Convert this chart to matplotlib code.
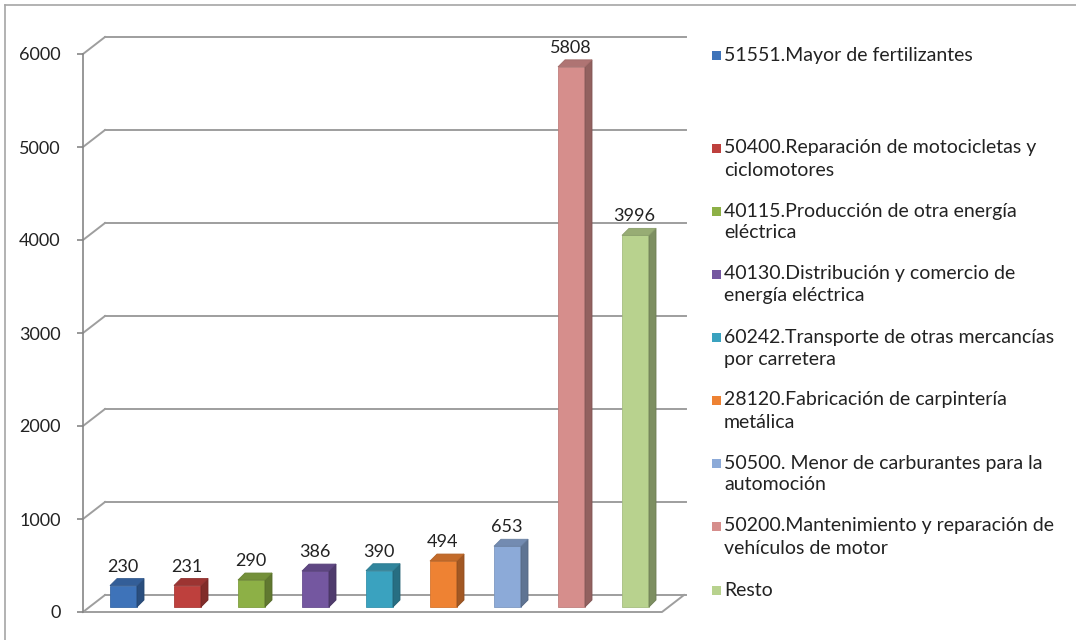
import matplotlib
matplotlib.use("Agg")
import matplotlib.pyplot as plt
from matplotlib.patches import Polygon, Rectangle
import numpy as np

categories = [
    "51551.Mayor de fertilizantes",
    "50400.Reparación de motocicletas y\nciclomotores",
    "40115.Producción de otra energía\neléctrica",
    "40130.Distribución y comercio de\nenergía eléctrica",
    "60242.Transporte de otras mercancías\npor carretera",
    "28120.Fabricación de carpintería\nmetálica",
    "50500. Menor de carburantes para la\nautomoción",
    "50200.Mantenimiento y reparación de\nvehículos de motor",
    "Resto",
]
values = [230, 231, 290, 386, 390, 494, 653, 5808, 3996]
colors = ["#3E73B9", "#BE403D", "#8DB046", "#7457A0", "#3AA2BF",
          "#EE8233", "#8CAAD8", "#D68E8C", "#B8D28E"]
yticks = [0, 1000, 2000, 3000, 4000, 5000, 6000]

W, H = 1076, 640
fig = plt.figure(figsize=(W / 100, H / 100), dpi=100)
ax = fig.add_axes([0, 0, 1, 1])
ppx = 64.0          # pixels per category
ppv = 0.093         # pixels per value unit
x_c0 = 123.5        # pixel of first category
y_0 = 612.0         # pixel of value 0 (front)
ax.set_xlim((0 - x_c0) / ppx, (W - x_c0) / ppx)
ax.set_ylim(-(H - y_0) / ppv, y_0 / ppv)
ax.set_facecolor("white")
for s in ["top", "right", "bottom"]:
    ax.spines[s].set_visible(False)

def px(dxp):
    return dxp / ppx

def pv(dyp):
    return dyp / ppv

x0 = px(83 - x_c0)
x1 = px(662 - x_c0)
ddx, ddy = px(22), pv(17)
grid_c = "#9E9E9E"

# back wall gridlines and left wall diagonals
for t in yticks:
    ax.plot([x0 + ddx, x1 + ddx + px(2)], [t + ddy, t + ddy], color=grid_c, lw=1.4, zorder=1)
    ax.plot([x0, x0 + ddx], [t, t + ddy], color=grid_c, lw=1.4, zorder=1)
# floor
ax.plot([x0, x1, x1 + ddx], [0, 0, ddy], color=grid_c, lw=1.4, zorder=1)

# front vertical axis (real y axis)
ax.spines["left"].set_position(("data", x0))
ax.spines["left"].set_bounds(0, 6000)
ax.spines["left"].set_color("#868686")
ax.spines["left"].set_linewidth(1.2)
ax.set_yticks(yticks)
ax.set_yticklabels([str(t) for t in yticks])
ax.tick_params(axis="y", direction="out", length=4, width=1.2, color="#868686",
               pad=12, labelsize=13, labelcolor="#222222")
for lab in ax.get_yticklabels():
    lab.set_fontfamily("Lato")
ax.set_xticks([])

def shade(c, f):
    r, g, b = matplotlib.colors.to_rgb(c)
    return (r * f, g * f, b * f)

bw = px(27)
sx, sy = px(7), pv(7)
base = pv(5)
for i, (v, c) in enumerate(zip(values, colors)):
    xc = i
    l, r = xc - bw / 2, xc + bw / 2
    b, t = base, base + v
    front = Polygon([(l, b), (r, b), (r, t), (l, t)], closed=True, fc=c, ec=shade(c, 0.9), lw=0.6, zorder=3)
    side = Polygon([(r, b), (r + sx, b + sy), (r + sx, t + sy), (r, t)], closed=True,
                   fc=shade(c, 0.68), ec=shade(c, 0.6), lw=0.6, zorder=3)
    top = Polygon([(l, t), (l + sx, t + sy), (r + sx, t + sy), (r, t)], closed=True,
                  fc=shade(c, 0.82), ec=shade(c, 0.75), lw=0.6, zorder=3)
    for p in (front, side, top):
        ax.add_patch(p)
    ax.text(xc - px(1), t + sy + pv(7), str(v), ha="center", va="baseline",
            fontsize=13, family="Lato", color="#222222", zorder=4)

# legend
leg_y = [55, 148, 211, 274, 337, 400, 463, 526, 590]
for lab, c, yy in zip(categories, colors, leg_y):
    fig.patches.append(Rectangle(((712) / W, 1 - (yy + 4.5) / H), 9 / W, 9 / H,
                                 transform=fig.transFigure, fc=c, ec="none"))
    for k, line in enumerate(lab.split("\n")):
        fig.text(724 / W, 1 - (yy + 22 * k) / H, line, ha="left", va="center",
                 fontsize=14, family="Lato", color="#222222")

# outer frame
fig.add_artist(plt.Line2D([5 / W, 5 / W], [0, 1 - 5 / H], transform=fig.transFigure, color="#A6A6A6", lw=1.2))
fig.add_artist(plt.Line2D([5 / W, 1], [1 - 5 / H, 1 - 5 / H], transform=fig.transFigure, color="#A6A6A6", lw=1.2))

fig.savefig("out.png", dpi=100)
